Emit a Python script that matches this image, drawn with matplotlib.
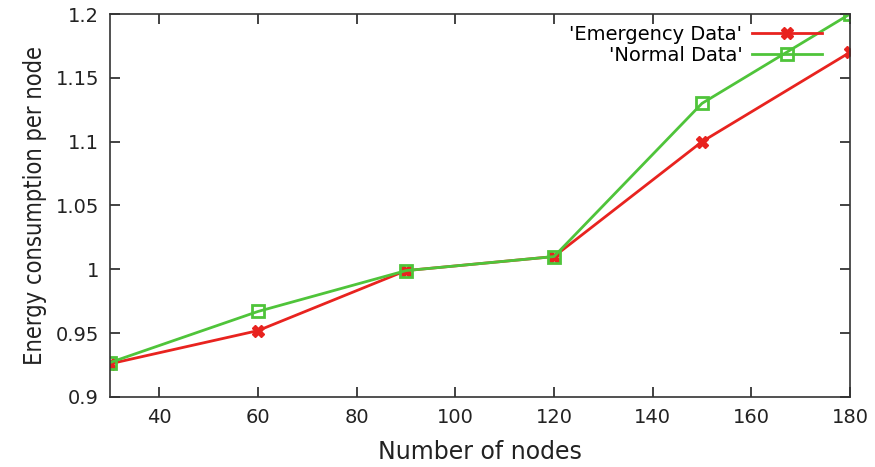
# Energy consumption per node vs. number of nodes for two traffic types
import matplotlib
matplotlib.use("Agg")
import matplotlib.pyplot as plt

nodes = [30, 60, 90, 120, 150, 180]
emergency = [0.926, 0.952, 0.999, 1.010, 1.100, 1.170]
normal = [0.927, 0.967, 0.999, 1.010, 1.130, 1.200]

x_ticks = [40, 60, 80, 100, 120, 140, 160, 180]
y_ticks = [0.9, 0.95, 1.0, 1.05, 1.1, 1.15, 1.2]
y_tick_labels = ["0.9", "0.95", "1", "1.05", "1.1", "1.15", "1.2"]

fig = plt.figure(figsize=(8.75, 4.67), dpi=100)
ax = fig.add_axes([110/875, 1 - 397/467, 740/875, 383/467])

ax.plot(nodes, emergency, color="#e8231f", lw=2.0, marker="X", ms=9,
        mec="#e8231f", mfc="#e8231f", label="'Emergency Data'")
ax.plot(nodes, normal, color="#4fc43a", lw=2.0, marker="s", ms=8.5,
        mec="#4fc43a", mfc="none", mew=2, label="'Normal Data'")

ax.set_xlim(30, 180)
ax.set_ylim(0.9, 1.2)
ax.set_xticks(x_ticks)
ax.set_yticks(y_ticks)
ax.set_yticklabels(y_tick_labels)
ax.tick_params(direction="in", length=7, width=1.2, top=True, right=True,
               labelsize=14, colors="#222222", pad=8)
for s in ax.spines.values():
    s.set_linewidth(1.2)
    s.set_color("#333333")

ax.set_xlabel("Number of nodes", fontsize=17, color="#222222", labelpad=9)
ax.set_ylabel("Energy consumption per node", fontsize=17, color="#222222",
              family="DejaVu Sans", fontstretch="condensed", labelpad=6)

ax.legend(loc="upper right", frameon=False, markerfirst=False, fontsize=14,
          handlelength=3.6, handletextpad=0.5, labelspacing=0.1,
          borderpad=0, borderaxespad=0,
          bbox_to_anchor=((822 - 110) / 740, (397 - 25) / 383))

fig.savefig("out.png", dpi=100)
